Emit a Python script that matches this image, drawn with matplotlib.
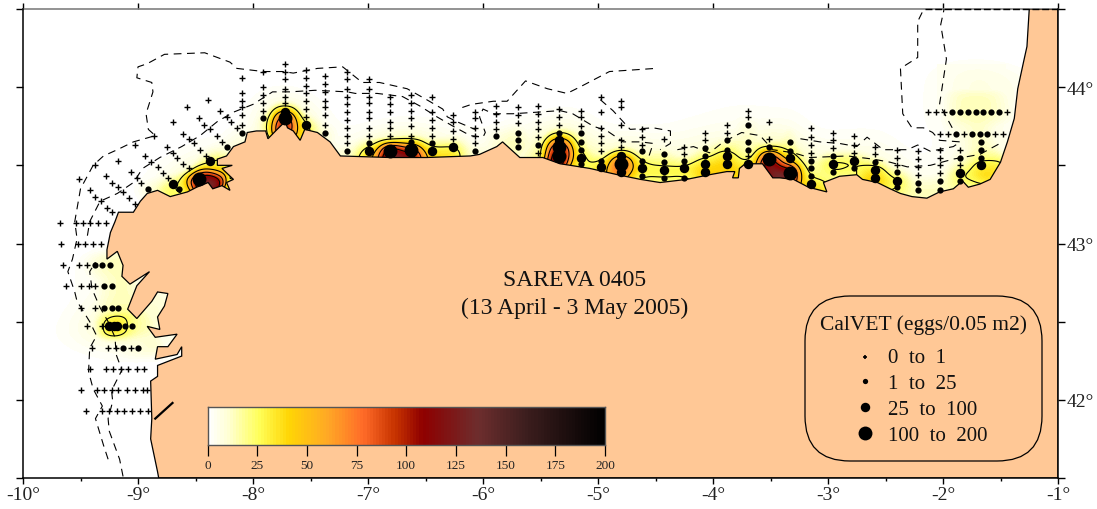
import numpy as np
import matplotlib
matplotlib.use("Agg")
import matplotlib.pyplot as plt
from matplotlib.colors import LinearSegmentedColormap
from matplotlib.patches import FancyBboxPatch, Polygon
from matplotlib.transforms import Affine2D

plt.rcParams['font.family'] = ['Liberation Serif', 'DejaVu Serif']

# ---- stations along meridional transects (lat lists, per class) ----
lon_t = [-8.10,-7.91,-7.72,-7.54,-7.37,-7.18,-6.99,-6.81,-6.63,-6.44,-6.26,-6.07,-5.89,-5.70,-5.52,-5.34,
         -5.15,-4.97,-4.80,-4.62,-4.43,-4.25,-4.07,-3.88,-3.70,-3.51,-3.33,-3.15,-2.96,-2.77,-2.59,-2.40,
         -2.22,-2.03,-1.85,-1.67]
lat_plus = [[44.06,43.96,43.91,43.87,43.82,43.76],[44.10,44.0,43.95,43.90,43.85],
            [44.15,44.10,44.05,43.99,43.94,43.90],[44.11,44.06,44.01,43.96,43.91,43.86,43.81],
            [44.07,44.02,43.97,43.91,43.87,43.82,43.76],[44.10,44.05,43.99,43.94,43.89,43.84,43.79,43.74,43.69,43.64],
            [44.05,43.99,43.94,43.90,43.84,43.80,43.74,43.69],[43.94,43.89,43.84,43.78,43.74,43.69],
            [43.95,43.90,43.85,43.80,43.75,43.69],[43.94,43.84,43.79,43.74,43.69],[43.82,43.78,43.72,43.67],
            [43.84,43.80,43.74,43.69,43.64],[43.88,43.83,43.78,43.73],[43.87,43.82,43.77],
            [43.88,43.83,43.78,43.73,43.68,43.58],[43.86,43.81,43.76],[43.85,43.81,43.75],
            [43.94,43.84,43.74,43.69,43.64,43.59],[43.91,43.87,43.76,43.66,43.62],[43.73,43.68,43.63],
            [43.67],[43.62,43.57],[43.71,43.66],[43.76,43.71],[43.85,43.81,43.56],[43.78,43.67],[],
            [43.74,43.68,43.63,43.58],[43.71,43.66,43.61],[43.69,43.63,43.58],[43.62,43.57],
            [43.60,43.55,43.50],[43.59,43.54,43.49,43.44],[43.60,43.55,43.50,43.45],[43.60,43.50],[]]
lat_small = [[43.71],[43.80],[],[],[43.71],[43.59],[43.64],[],[43.65],[43.64],[],[43.59],[43.69],
             [43.71,43.66,43.62],[43.63],[43.71],[43.71,43.65,43.60,43.51],[43.53],[],
             [43.59,43.53,43.43],[43.57,43.52,43.42],[43.53,43.42],[43.61,43.56],[43.66,43.60],
             [43.76,43.65,43.60],[43.62],[43.65,43.59],[43.53,43.48,43.43],[43.56,43.46],[43.48],[43.52],
             [43.46,43.36],[43.39,43.34],[43.40,43.34],[43.55,43.40],[43.65,43.60,43.55]]
lat_med = [[],[],[43.84],[43.76],[],[],[43.59],[],[],[43.59],[43.62],[],[],[],[],[43.66],[43.55],[43.49],
           [43.56,43.46],[43.48],[43.47],[43.48],[43.51,43.46],[43.56,43.51],[43.51],[],[43.55],[43.38],
           [43.51],[43.53],[43.47,43.42],[43.40],[],[],[43.45],[43.50]]
lat_big = [[],[],[43.80],[],[],[],[],[43.59],[43.60],[],[],[],[],[],[],[43.62,43.56],[],[],[43.51],[],[],[],
           [],[],[],[43.54],[43.45],[],[],[],[],[],[],[],[],[]]

# ---- other stations (Galicia transects and inner Bay of Biscay rows) ----
plus_lon = [-2.13,-2.06,-1.99,-1.44,-2.03,-1.96,-1.82,-1.55,-1.48,
            -8.29,-8.23,-8.19,-8.14,-8.47,-8.43,-8.37,-8.31,-8.27,-8.70,-8.57,-8.39,
            -8.61,-8.56,-8.51,-8.46,-8.41,-8.75,-8.70,-8.66,-8.61,-8.56,
            -8.94,-8.89,-8.83,-8.78,-8.74,-8.86,-9.03,-9.17,-9.06,-9.01,-8.97,
            -9.28,-9.23,-9.17,-9.13,-9.08,-9.03,-9.37,-9.51,-9.42,-9.37,-9.32,-9.27,-9.23,
            -9.68,-9.54,-9.48,-9.42,-9.35,-9.28,-9.67,-9.52,-9.46,-9.39,-9.32,
            -9.65,-9.51,-9.44,-9.63,-9.50,-9.43,-9.37,-9.50,-9.37,-9.44,-9.31,
            -9.40,-9.26,-9.19,-9.06,-9.42,-9.28,-9.22,-9.15,-9.09,-9.01,-8.95,
            -9.50,-9.36,-9.30,-9.23,-9.17,-9.10,-9.03,-8.96,-8.92,
            -9.45,-9.31,-9.25,-9.18,-9.12,-9.05,-8.98,-8.91]
plus_lat = [43.84,43.84,43.84,43.84,43.70,43.70,43.70,43.70,43.70,
            43.85,43.81,43.78,43.74,43.80,43.76,43.73,43.69,43.65,43.78,43.87,43.92,
            43.70,43.67,43.64,43.60,43.56,43.62,43.58,43.55,43.51,43.48,
            43.56,43.52,43.49,43.45,43.42,43.69,43.63,43.53,43.46,43.42,43.39,
            43.43,43.39,43.36,43.33,43.29,43.25,43.50,43.41,43.34,43.30,43.27,43.23,43.20,
            43.13,43.13,43.13,43.13,43.13,43.13,43.00,43.00,43.00,43.00,43.00,
            42.86,42.86,42.86,42.73,42.73,42.73,42.73,42.59,42.59,42.47,42.47,
            42.33,42.33,42.33,42.33,42.20,42.20,42.20,42.20,42.20,42.20,42.20,
            42.06,42.06,42.06,42.06,42.06,42.06,42.06,42.06,42.06,
            41.93,41.93,41.93,41.93,41.93,41.93,41.93,41.93]
small_lon = [-1.92,-1.85,-1.78,-1.71,-1.65,-1.58,-1.51,-1.89,-1.75,-1.68,-1.62,
             -8.23,-8.64,-8.91,-9.37,-9.31,-9.24,-9.30,-9.23,-9.30,-9.23,-9.17,-9.11,-9.05,-9.13,-9.00]
small_lat = [43.84,43.84,43.84,43.84,43.84,43.84,43.84,43.70,43.70,43.70,43.70,
             43.62,43.35,43.35,42.86,42.86,42.86,42.73,42.73,42.59,42.59,42.59,42.47,42.47,42.33,42.33]
med_lon = [-8.37,-8.70,-9.25,-9.21,-9.18]
med_lat = [43.53,43.38,42.47,42.47,42.47]
big_lon = [-8.47]
big_lat = [43.41]

# ---- representative abundance (eggs/0.05 m2) for each class ----
class_values = [0, 14, 46, 150]

# ---- coastline ----
coast_lon = [-1.25,-1.27,-1.30,-1.35,-1.38,-1.44,-1.50,-1.59,-1.68,-1.78,-1.83,-1.91,-2.03,-2.14,-2.27,-2.37,-2.46,
             -2.57,-2.70,-2.75,-2.90,-3.04,-3.01,-3.17,-3.30,-3.42,-3.48,-3.57,-3.72,-3.77,-3.78,-3.83,-3.81,-3.88,
             -4.03,-4.23,-4.46,-4.63,-4.83,-5.07,-5.24,-5.33,-5.48,-5.68,-5.83,-5.88,-6.03,-6.11,-6.49,-6.81,-7.24,
             -7.33,-7.44,-7.55,-7.59,-7.65,-7.70,-7.72,-7.79,-7.87,-7.89,-7.97,-8.05,-8.07,-8.17,-8.23,-8.31,-8.31,
             -8.18,-8.27,-8.17,-8.23,-8.20,-8.27,-8.35,-8.39,-8.49,-8.57,-8.72,-8.83,-8.92,-8.98,-9.04,-9.17,-9.20,
             -9.24,-9.27,-9.27,-9.18,-9.13,-9.14,-9.07,-8.90,-9.01,-9.09,-9.01,-8.88,-8.83,-8.74,-8.77,-8.83,-8.81,
             -8.92,-8.85,-8.66,-8.74,-8.83,-8.85,-8.66,-8.62,-8.62,-8.83,-8.83,-8.89,-8.88,-8.89,-8.83,-8.82,-1.0,-1.0]
coast_lat = [44.50,44.26,44.16,43.99,43.80,43.65,43.52,43.41,43.38,43.36,43.40,43.35,43.33,43.29,43.30,43.32,43.35,
             43.39,43.41,43.44,43.43,43.39,43.33,43.36,43.41,43.42,43.42,43.51,43.51,43.48,43.42,43.42,43.46,43.46,
             43.44,43.41,43.39,43.41,43.44,43.48,43.50,43.51,43.55,43.55,43.65,43.62,43.57,43.56,43.55,43.55,43.56,
             43.65,43.71,43.73,43.66,43.72,43.74,43.78,43.73,43.67,43.72,43.72,43.71,43.65,43.62,43.56,43.54,43.50,
             43.50,43.48,43.41,43.39,43.34,43.37,43.35,43.39,43.36,43.33,43.30,43.34,43.32,43.27,43.20,43.20,43.14,
             43.07,42.96,42.90,42.95,42.86,42.79,42.74,42.82,42.73,42.58,42.52,42.63,42.69,42.68,42.60,42.53,42.45,
             42.47,42.40,42.42,42.34,42.34,42.26,42.29,42.34,42.28,42.22,42.15,42.12,41.88,41.75,41.54,41.50,41.50,44.50]
river_lon = [-8.85,-8.70]
river_lat = [41.88,41.98]

# ---- bathymetric contours ----
iso1_lon = [-9.13,-9.16,-9.21,-9.25,-9.26,-9.22,-9.23,-9.14,-9.19,-9.20,-9.26,-9.33,-9.40,-9.42,-9.37]
iso1_lat = [41.51,41.62,41.72,41.80,41.88,41.99,42.06,42.19,42.29,42.40,42.50,42.59,42.71,42.82,42.88]
iso2_lon = [-9.44,-9.42,-9.33,-9.18,-9.04,-8.96,-8.81,-8.62,-8.46,-8.31,-8.17,-8.00,-7.83,-7.68,-7.46,-7.18,-7.11,
            -6.92,-6.70,-6.55,-6.40,-6.26,-6.11,-6.00,-5.98,-6.03,-6.00,-5.91,-5.74,-5.53,-5.33,-5.22,-5.04,-4.92,
            -4.78,-4.63,-4.52,-4.57]
iso2_lat = [43.05,43.14,43.27,43.32,43.39,43.48,43.55,43.62,43.69,43.78,43.84,43.89,43.97,43.97,43.98,43.97,43.96,
            43.96,43.94,43.88,43.81,43.75,43.69,43.68,43.71,43.81,43.86,43.83,43.83,43.84,43.85,43.83,43.75,43.72,
            43.65,43.65,43.64,43.53]
iso3_lon = [-9.26,-9.30,-9.37,-9.31,-9.39,-9.43,-9.42,-9.36,-9.42,-9.53,-9.55,-9.61,-9.57,-9.53,-9.55,-9.50,-9.39,
            -9.30,-9.18,-9.04,-8.85,-8.91,-8.93,-8.87,-8.88,-9.01,-9.00,-8.92,-8.77,-8.42,-8.20,-8.14,-7.91,-7.74,
            -7.65,-7.44,-7.22,-7.05,-6.90,-6.66,-6.49,-6.35,-6.31,-6.23,-6.07]
iso3_lat = [41.62,41.71,41.88,41.96,42.07,42.18,42.33,42.41,42.50,42.63,42.69,42.82,42.90,43.03,43.14,43.35,43.50,
            43.56,43.60,43.65,43.69,43.73,43.83,43.97,44.03,44.06,44.13,44.15,44.21,44.22,44.16,44.12,44.10,44.10,
            44.09,44.12,44.13,44.03,44.03,43.99,43.92,43.86,43.81,43.78,43.73]
iso4_lon = [-6.18,-6.10,-5.91,-5.79,-5.63,-5.44,-5.27,-5.16,-4.90,-4.50]
iso4_lat = [43.87,43.89,43.91,43.91,44.04,43.99,43.96,44.00,44.10,44.12]
iso5_lon = [-4.98,-4.87,-4.72,-4.52,-4.37,-4.37,-4.46]
iso5_lat = [43.92,43.85,43.73,43.74,43.72,43.64,43.60]
iso6_lon = [-4.31,-4.17,-4.03,-3.91,-3.75,-3.59,-3.48,-3.30,-3.16,-2.83,-2.61,-2.46,-2.31,-2.11,-1.91,-1.68,-1.48]
iso6_lat = [43.60,43.62,43.58,43.65,43.71,43.69,43.60,43.58,43.55,43.56,43.54,43.52,43.49,43.50,43.54,43.57,43.65]
iso7_lon = [-3.24,-3.07,-2.90,-2.75,-2.66,-2.52,-2.31,-2.22,-2.11,-1.91,-1.85,-2.03,-2.09,-2.17,-2.27,-2.35,-2.37,-2.22,-2.22,-2.18]
iso7_lat = [43.67,43.65,43.64,43.62,43.68,43.60,43.60,43.63,43.59,43.62,43.65,43.66,43.71,43.74,43.74,43.83,44.12,44.19,44.42,44.48]
iso8_lon = [-1.92,-2.03,-1.97,-2.02,-1.99]
iso8_lat = [43.74,43.89,44.18,44.40,44.50]
isobath_lons = [iso1_lon, iso2_lon, iso3_lon, iso4_lon, iso5_lon, iso6_lon, iso7_lon, iso8_lon]
isobath_lats = [iso1_lat, iso2_lat, iso3_lat, iso4_lat, iso5_lat, iso6_lat, iso7_lat, iso8_lat]

# pale plateau of the gridded map north of the inner Biscay row (lon0, lon1, lat0, lat1, value)
plateau = (-2.05, -1.45, 43.84, 44.15, 3.5)

# ---- tick labels and text ----
xtick_vals = [-10,-9,-8,-7,-6,-5,-4,-3,-2,-1]
ytick_vals = [42,43,44]
cbar_ticks = [0,25,50,75,100,125,150,175,200]
legend_labels = ['0  to  1','1  to  25','25  to  100','100  to  200']

W, H = 1097, 510
fig = plt.figure(figsize=(W/100, H/100), dpi=100, facecolor='white')
ax = fig.add_axes([23/W, 1-479/H, (1058-23)/W, (479-10)/H])
ax.set_xlim(-10, -1)
ax.set_ylim(41.5, 44.5)

cmap = LinearSegmentedColormap.from_list('eggs', [
    (0.0,(1,1,1)),(0.05,(1,1,.82)),(0.125,(1,1,.35)),(0.2,(1,.84,.02)),(0.3,(1,.66,.15)),(0.39,(1,.42,.16)),
    (0.47,(.78,.2,0)),(0.54,(.56,0,0)),(0.68,(.43,.18,.18)),(0.8,(.24,.12,.12)),(1.0,(0,0,0))], N=128)

# collect stations per class
cols = {0:lat_plus,1:lat_small,2:lat_med,3:lat_big}
T = {}
for c, tab in cols.items():
    T[c] = ([l for l, la in zip(lon_t, tab) for _ in la], [v for sub in tab for v in sub])
T[0] = (T[0][0]+plus_lon, T[0][1]+plus_lat)
T[1] = (T[1][0]+small_lon, T[1][1]+small_lat)
T[2] = (T[2][0]+med_lon, T[2][1]+med_lat)
T[3] = (T[3][0]+big_lon, T[3][1]+big_lat)
all_lon = np.array([x for c in T for x in T[c][0]])
all_lat = np.array([x for c in T for x in T[c][1]])
all_val = np.array([class_values[c] for c in T for _ in T[c][0]])

# gridded abundance from the stations: a sharp and a broad kernel average
gx = np.linspace(-10, -1, 1035)
gy = np.linspace(41.5, 44.5, 469)
GX, GY = np.meshgrid(gx, gy)
def smooth(sx, sy, eps):
    num = np.zeros_like(GX); den = np.zeros_like(GX)
    for lo, la, v in zip(all_lon, all_lat, all_val):
        w = np.exp(-0.5*(((GX-lo)/sx)**2 + ((GY-la)/sy)**2))
        num += v*w; den += w
    return num/(den+eps)
field = np.maximum(smooth(0.085, 0.05, 0.04), 0.55*smooth(0.17, 0.10, 0.06))
box = (GX>plateau[0])&(GX<plateau[1])&(GY>plateau[2])&(GY<plateau[3])
field[box] = np.maximum(field[box], plateau[4])

ax.imshow(field, extent=(-10,-1,41.5,44.5), origin='lower', aspect='auto', cmap=cmap, vmin=0, vmax=200,
          interpolation='nearest', zorder=1)
ax.contour(GX, GY, field, levels=[25,50,75,100], colors='k', linewidths=0.8, zorder=2)

land = Polygon(np.column_stack([coast_lon, coast_lat]), closed=True, fc='#FFC896', ec='k', lw=0.9, zorder=3)
ax.add_patch(land)
ax.plot(river_lon, river_lat, color='k', lw=1.6, zorder=3.2)

for lo, la in zip(isobath_lons, isobath_lats):
    ax.plot(lo, la, color='k', lw=0.8, dashes=(7, 5), zorder=3.5)
ax.plot([-2.16,-1.0],[44.5,44.5], color='k', lw=1.0, dashes=(5,2), zorder=3.5, clip_on=False)

ax.plot(T[0][0], T[0][1], '+', color='k', ms=5, mew=1.0, zorder=5, ls='none')
ax.plot(T[1][0], T[1][1], 'o', color='k', ms=4.5, mew=0, zorder=5, ls='none')
ax.plot(T[2][0], T[2][1], 'o', color='k', ms=6.8, mew=0, zorder=5, ls='none')
ax.plot(T[3][0], T[3][1], 'o', color='k', ms=10, mew=0, zorder=5, ls='none')

# axes frame
for s in ('left','right','bottom'):
    ax.spines[s].set_linewidth(1.1); ax.spines[s].set_zorder(6)
ax.spines['top'].set_color('#808080'); ax.spines['top'].set_linewidth(1.2)
ax.set_xticks(xtick_vals)
ax.set_xticklabels([f'{v}°' for v in xtick_vals], fontsize=14, color='#222222')
ax.set_xticks(np.arange(-9.5,-1,1), minor=True)
ax.set_yticks(ytick_vals)
ax.set_yticks([41.5,42.5,43.5,44.5], minor=True)
ax.set_yticklabels([f'{v}°' for v in ytick_vals], fontsize=14, color='#222222')
ax.tick_params(axis='x', which='major', length=4, width=1, pad=2, bottom=True, top=True)
ax.tick_params(axis='x', which='minor', length=2, width=1, bottom=True, top=False)
ax.tick_params(axis='y', which='major', length=5, width=1, pad=1, left=True, right=True, labelleft=False, labelright=True)
ax.tick_params(axis='y', which='minor', length=5, width=1, left=True, right=True)

def X(px): return (px-23)/(1058-23)
def Y(py): return (479-py)/(479-10)

ax.text(X(575), Y(281), 'SAREVA 0405', transform=ax.transAxes, ha='center', va='center', fontsize=17, color='#111111', zorder=7)
ax.text(X(575), Y(308), '(13 April - 3 May 2005)', transform=ax.transAxes, ha='center', va='center', fontsize=17, color='#111111', zorder=7)

# colour bar
cax = fig.add_axes([207.5/W, 1-446/H, (605-207.5)/W, (446-408)/H])
cax.imshow(np.linspace(0,200,128)[None,:], extent=(0,200,0,1), aspect='auto', cmap=cmap, vmin=0, vmax=200, interpolation='nearest')
cax.set_yticks([])
cax.set_xticks(cbar_ticks)
cax.set_xticklabels([str(v) for v in cbar_ticks], fontsize=9.5, color='#222222')
cax.tick_params(axis='x', length=8, width=0.9, pad=2)
for s in cax.spines.values():
    s.set_linewidth(1.0); s.set_color('#555555')

# legend box
lbox = FancyBboxPatch((805+45,297+45), 237-90, 165-90, boxstyle='round,pad=45,rounding_size=45',
                      fc='none', ec='k', lw=0.9, zorder=8)
lbox.set_transform(Affine2D().scale(1,-1).translate(0,H))
fig.add_artist(lbox)
ax.text(X(924), Y(325), 'CalVET (eggs/0.05 m2)', transform=ax.transAxes, ha='center', va='center', fontsize=15.5, color='#111111', zorder=9)
leg_y = [359,385,411,437]
leg_m = ['+','o','o','o']
leg_ms = [3.2,3.8,6.8,10]
for yy, lab, m, ms in zip(leg_y, legend_labels, leg_m, leg_ms):
    if m == '+':
        ax.plot([X(865)],[Y(yy-1)], '+', color='k', ms=ms, mew=1.2, transform=ax.transAxes, zorder=9)
    else:
        ax.plot([X(865)],[Y(yy-3)], 'o', color='k', ms=ms, mew=0, transform=ax.transAxes, zorder=9)
    ax.text(X(888), Y(yy), lab, transform=ax.transAxes, ha='left', va='center', fontsize=15, color='#111111', zorder=9)

fig.savefig('out.png', dpi=100, facecolor='white')
